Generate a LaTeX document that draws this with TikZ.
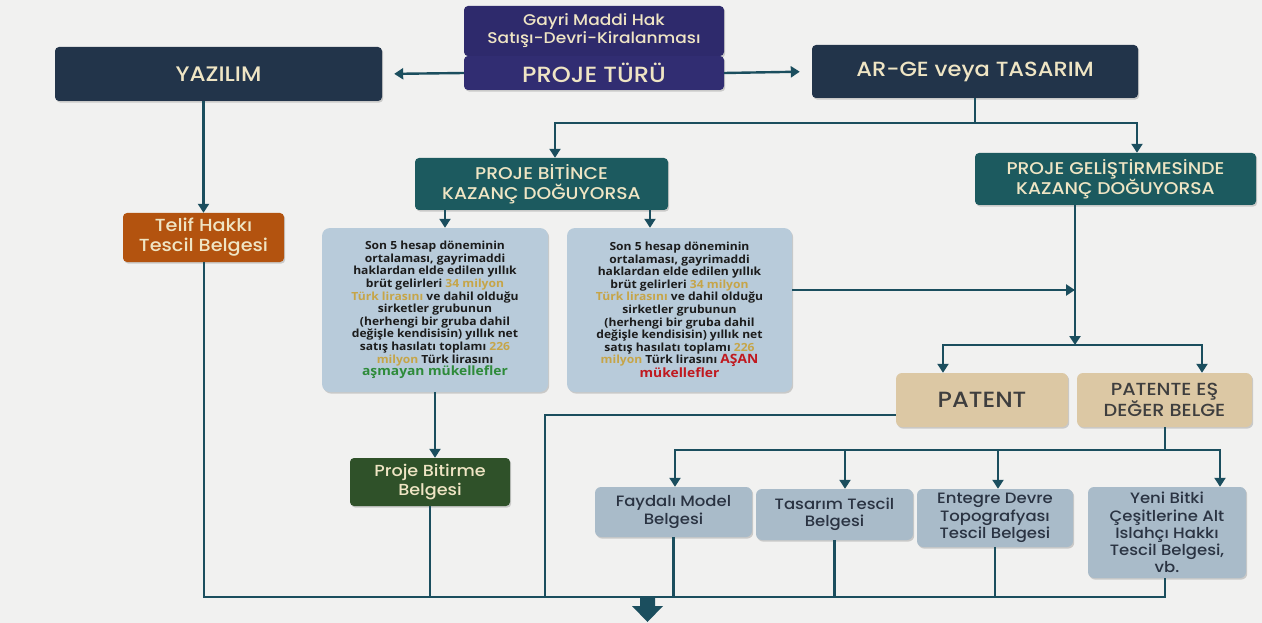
\documentclass[tikz,border=0pt]{standalone}
\usepackage{fontspec}
\setmainfont{Open Sans}
\newfontfamily\hdr{Poppins}[UprightFont=*-Medium, FakeStretch=1.1]
\newfontfamily\info{Open Sans}[FakeStretch=1.08]
\usetikzlibrary{arrows.meta,shadows,calc}
\definecolor{bgc}{HTML}{F1F1F0}
\definecolor{lc}{HTML}{1B4E5E}
\definecolor{purp}{HTML}{2E2A6C}
\definecolor{purp2}{HTML}{312D72}
\definecolor{navy}{HTML}{22344A}
\definecolor{teal}{HTML}{1C5A5F}
\definecolor{cream}{HTML}{EFE5C4}
\definecolor{bluebox}{HTML}{B8CBDA}
\definecolor{tan}{HTML}{DCC8A4}
\definecolor{orng}{HTML}{B3530F}
\definecolor{dgreen}{HTML}{2F5129}
\definecolor{gold}{HTML}{C6A548}
\definecolor{okgreen}{HTML}{2E8B3A}
\definecolor{warnred}{HTML}{C0191F}
\definecolor{txt}{HTML}{1C1C1C}
\definecolor{txtb}{HTML}{2A3342}
\tikzset{
  boxbase/.style={rounded corners=4pt, align=center, inner sep=1pt,
    drop shadow={shadow xshift=1.2pt,shadow yshift=-1.6pt,opacity=0.35}},
  hdrbox/.style={boxbase, text=cream, font=\hdr\fontsize{17}{20}\selectfont},
  infobox/.style={boxbase, fill=bluebox, text=txt, rounded corners=8pt,
    font=\info\bfseries\fontsize{11.2}{12.6}\selectfont},
  certbox/.style={boxbase, fill=bluebox!92!black, text=txtb, rounded corners=6pt,
    font=\hdr\fontsize{15}{17.2}\selectfont},
  pbox/.style={boxbase, fill=tan, text=txt!85, rounded corners=6pt},
  conn/.style={draw=lc, line width=2.4pt},
  arr/.style={conn, -{Triangle[width=11pt,length=9pt]}},
}
\begin{document}
\begin{tikzpicture}[x=1pt,y=-1pt]
\useasboundingbox[fill=bgc] (0,0) rectangle (1262,623);

% top
\node[hdrbox, fill=purp, minimum width=260pt, minimum height=50pt, font=\hdr\fontsize{15.5}{18}\selectfont] (gayri) at (594,31) {Gayri Maddi Hak\\Satışı-Devri-Kiralanması};
\node[hdrbox, fill=purp2, minimum width=260pt, minimum height=34pt, font=\hdr\fontsize{22}{24}\selectfont] (proje) at (594,73) {PROJE TÜRÜ};
\node[hdrbox, fill=navy, minimum width=327pt, minimum height=54pt, font=\hdr\fontsize{21}{24}\selectfont] (yaz) at (218.5,74) {YAZILIM};
\node[hdrbox, fill=navy, minimum width=326pt, minimum height=53pt, font=\hdr\fontsize{20.5}{24}\selectfont] (arge) at (975,71.5) {AR-GE veya TASARIM};

% second level
\node[hdrbox, fill=teal, minimum width=253pt, minimum height=52pt] (bitince) at (541.5,184) {PROJE BİTİNCE\\KAZANÇ DOĞUYORSA};
\node[hdrbox, fill=teal, minimum width=281pt, minimum height=52pt] (gelis) at (1115.5,179) {PROJE GELİŞTİRMESİNDE\\KAZANÇ DOĞUYORSA};
\node[hdrbox, fill=orng, minimum width=161pt, minimum height=49pt, font=\hdr\fontsize{17.5}{20}\selectfont] (telif) at (203.5,237.5) {Telif Hakkı\\Tescil Belgesi};

% info boxes
\node[infobox, minimum width=226pt, minimum height=164pt] (bl) at (435,310) {Son 5 hesap döneminin\\ortalaması, gayrimaddi\\haklardan elde edilen yıllık\\brüt gelirleri \textcolor{gold}{34 milyon}\\\textcolor{gold}{Türk lirasını} ve dahil olduğu\\sirketler grubunun\\(herhengi bir gruba dahil\\değişle kendisisin) yıllık net\\satış hasılatı toplamı \textcolor{gold}{226}\\\textcolor{gold}{milyon} Türk lirasını\\{\fontsize{12.8}{14}\selectfont\textcolor{okgreen}{aşmayan mükellefler}}};
\node[infobox, minimum width=225pt, minimum height=164pt] (br) at (679.5,310) {Son 5 hesap döneminin\\ortalaması, gayrimaddi\\haklardan elde edilen yıllık\\brüt gelirleri \textcolor{gold}{34 milyon}\\\textcolor{gold}{Türk lirasını} ve dahil olduğu\\sirketler grubunun\\(herhengi bir gruba dahil\\değişle kendisisin) yıllık net\\satış hasılatı toplamı \textcolor{gold}{226}\\\textcolor{gold}{milyon} Türk lirasını {\fontsize{12.8}{14}\selectfont\textcolor{warnred}{AŞAN}}\\{\fontsize{12.8}{14}\selectfont\textcolor{warnred}{mükellefler}}};

\node[hdrbox, fill=dgreen, minimum width=160pt, minimum height=48pt, font=\hdr\fontsize{16}{19}\selectfont] (bitirme) at (430,482) {Proje Bitirme\\Belgesi};

% patent
\node[pbox, minimum width=172pt, minimum height=54pt, font=\hdr\fontsize{22}{24}\selectfont] (patent) at (982,400) {PATENT};
\node[pbox, minimum width=175pt, minimum height=54pt, font=\hdr\fontsize{17.5}{20}\selectfont] (esdeger) at (1164.5,400) {PATENTE EŞ\\DEĞER BELGE};

% certificates
\node[certbox, minimum width=157pt, minimum height=50pt] (fay) at (673.5,512) {Faydalı Model\\Belgesi};
\node[certbox, minimum width=157pt, minimum height=51pt] (tas) at (834.5,514.5) {Tasarım Tescil\\Belgesi};
\node[certbox, minimum width=156pt, minimum height=58pt] (ent) at (995,518) {Entegre Devre\\Topografyası\\Tescil Belgesi};
\node[certbox, minimum width=158pt, minimum height=91pt] (yeni) at (1167,532.5) {Yeni Bitki\\Çeşitlerine Alt\\Islahçı Hakkı\\Tescil Belgesi,\\vb.};

% junction coordinates
\coordinate (j1) at (975,123);
\coordinate (j2) at (1075,345);
\coordinate (j3) at (1165,450);
\coordinate (j4) at (545,415);
\coordinate (bL) at (204,597);
\coordinate (bR) at (1165,597);
\coordinate (bM) at (647.5,597);

% top arrows
\draw[arr, shorten >=12pt] (proje.west) -- (yaz.east);
\draw[arr, shorten >=12pt] (proje.east) -- (arge.west);

% AR-GE split
\draw[conn] (arge.south) -- (j1);
\draw[arr] (j1) -| ([xshift=13.5pt]bitince.north);
\draw[arr] (j1) -| ([xshift=21.5pt]gelis.north);

% yazilim
\draw[arr] (yaz.south -| telif.north) -- (telif.north);

% bitince to info boxes
\draw[arr] ([xshift=-96.5pt]bitince.south) -- ([xshift=-96.5pt]bitince.south |- bl.north);
\draw[arr] ([xshift=108.5pt]bitince.south) -- ([xshift=108.5pt]bitince.south |- br.north);

% left info -> bitirme
\draw[arr] (bl.south) -- (bl.south |- bitirme.north);

% right info -> gelistirme line
\draw[arr] (br.east |- 0,290) -- (j2 |- 0,290);

% gelistirme down
\draw[arr] (gelis.south -| j2) -- (j2);
\draw[arr] (j2) -| ([xshift=-39pt]patent.north);
\draw[arr] (j2) -| ([xshift=37.5pt]esdeger.north);

% patente es deger split
\draw[conn] (esdeger.south -| j3) -- (j3);
\draw[arr] (j3) -| ([xshift=1.5pt]fay.north);
\draw[arr] (j3) -| ([xshift=10.5pt]tas.north);
\draw[arr] (j3) -| ([xshift=3pt]ent.north);
\draw[arr] (j3) -| ([xshift=53pt]yeni.north);

% to bottom line
\draw[conn] (patent.west |- j4) -- (j4) -- (j4 |- bL);
\draw[conn] (telif.south -| bL) -- (bL);
\draw[conn] (bitirme.south) -- (bitirme.south |- bL);
\draw[conn] (fay.south) -- (fay.south |- bL);
\draw[conn] (tas.south) -- (tas.south |- bL);
\draw[conn] (ent.south) -- (ent.south |- bL);
\draw[conn] (yeni.south -| bR) -- (bR);
\draw[conn, line cap=rect] (bL) -- (bR);

% big arrow down
\fill[lc] ([xshift=-7.5pt]bM) -- ([xshift=7.5pt]bM) -- ++(0,9) -- ++(8,0) -- ([yshift=-25pt]bM) -- ([xshift=-15.5pt,yshift=-9pt]bM) -- ++(8,0) -- cycle;
\end{tikzpicture}
\end{document}
